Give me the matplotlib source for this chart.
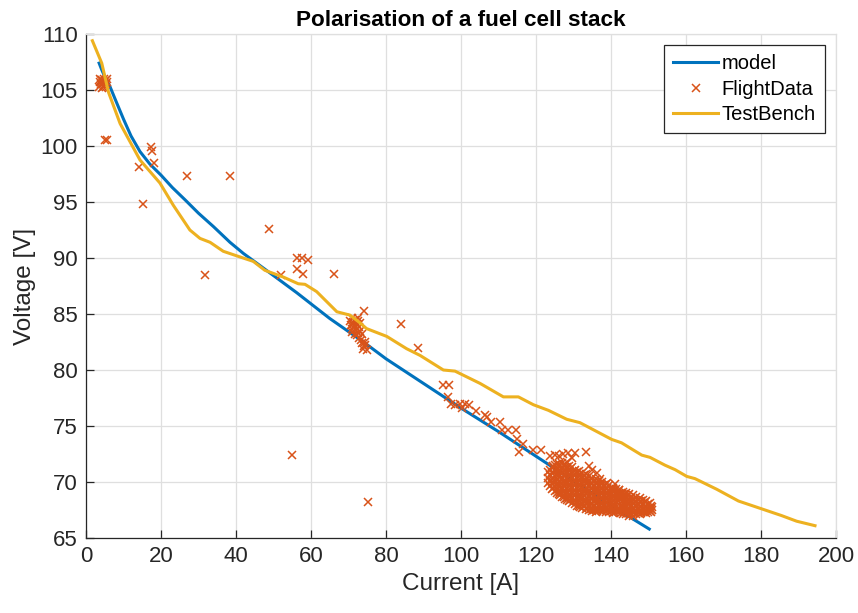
import matplotlib
matplotlib.use("Agg")
import matplotlib.pyplot as plt
import numpy as np

plt.rcParams['font.family'] = ['Liberation Sans', 'DejaVu Sans']

# ---------------- data ----------------
model_current = [3.5, 4.2, 5.0, 6.4, 8.0, 10.0, 12.0, 14.4, 17.0, 20.0, 23.0, 26.4, 30.0,
                 34.0, 38.4, 42.0, 47.3, 56.2, 65.0, 74.0, 80.0, 90.0, 100.0, 110.0,
                 120.0, 130.0, 140.0, 150.2]
model_voltage = [107.4, 106.8, 106.2, 105.3, 104.0, 102.4, 100.9, 99.5, 98.4, 97.4, 96.3,
                 95.2, 94.0, 92.8, 91.4, 90.4, 89.1, 86.9, 84.6, 82.5, 81.0, 78.8, 76.6,
                 74.5, 72.3, 70.1, 67.9, 65.8]

bench_current = [1.7, 4.2, 6.0, 9.1, 14.4, 19.7, 23.3, 27.7, 30.4, 33.1, 36.6, 41.9, 44.6,
                 47.7, 52.6, 56.6, 58.4, 61.5, 64.2, 66.9, 70.4, 73.1, 74.8, 80.2, 85.5,
                 89.1, 95.3, 98.4, 105.1, 111.3, 115.3, 119.3, 123.3, 128.2, 131.7, 140.2,
                 142.8, 148.2, 150.4, 154.4, 157.1, 160.2, 162.4, 168.2, 174.0, 180.2,
                 185.5, 189.5, 194.4]
bench_voltage = [109.4, 107.4, 104.8, 102.0, 98.75, 96.7, 94.7, 92.5, 91.75, 91.4, 90.6, 90.0,
                 89.7, 88.9, 88.3, 87.7, 87.65, 87.0, 86.1, 85.2, 84.9, 84.2, 83.7, 83.0,
                 81.9, 81.3, 80.0, 79.9, 78.8, 77.6, 77.6, 76.9, 76.4, 75.6, 75.3, 73.8,
                 73.5, 72.4, 72.2, 71.5, 71.1, 70.5, 70.3, 69.35, 68.3, 67.6, 67.0, 66.5,
                 66.1]

# scattered flight points (current, voltage)
flight_current = [3.4, 3.6, 3.8, 4.0, 4.2, 4.3, 4.5, 4.7, 4.9, 5.0, 5.3, 5.5, 5.6, 3.9, 4.6,
                  5.0, 5.6, 17.2, 17.7, 18.1, 14.0, 15.1, 27.0, 38.4, 31.7, 48.9, 56.2,
                  57.5, 59.3, 56.3, 57.9, 52.0, 66.0, 74.2, 83.9, 88.5, 54.9, 75.2,
                  70.3, 70.6, 70.9, 71.0, 71.3, 71.5, 71.8, 72.0, 72.2, 72.5, 72.7, 73.0,
                  73.1, 70.8, 71.6, 72.3, 72.9, 73.3, 73.6, 73.7, 74.0, 74.3, 73.9, 74.5,
                  72.6, 71.2, 72.4, 74.8,
                  95.3, 96.7, 96.4, 97.3, 98.4, 99.6, 101.1, 100.2, 102.0, 104.0, 106.4,
                  106.8, 107.9, 110.4, 111.0, 112.6, 114.7, 115.0, 116.5, 115.5, 119.1,
                  121.3,
                  123.7, 125.1, 126.0, 127.3, 128.6, 130.4, 133.3, 129.5, 128.2, 134.2,
                  134.9, 136.2, 137.1, 138.8, 141.1, 142.0, 143.7]
flight_voltage = [105.3, 105.7, 106.0, 105.5, 105.2, 105.9, 105.6, 106.0, 105.4, 105.8, 105.5,
                  106.0, 105.7, 105.9, 105.3,
                  100.5, 100.5, 99.9, 99.55, 98.45, 98.15, 94.8, 97.3, 97.3, 88.5, 92.55,
                  90.0, 90.0, 89.8, 89.0, 88.6, 88.5, 88.6, 85.3, 84.1, 82.0, 72.4, 68.2,
                  84.4, 84.0, 84.6, 83.7, 84.3, 83.9, 84.5, 83.6, 84.1, 84.4, 83.8, 84.2,
                  83.5, 83.4, 83.2, 83.1, 82.9, 82.7, 83.2, 82.4, 82.1, 82.5, 81.9, 82.2,
                  83.3, 84.1, 84.6, 81.8,
                  78.7, 78.7, 77.6, 77.0, 76.9, 77.0, 77.0, 76.6, 76.9, 76.3, 76.0, 75.8,
                  75.4, 75.4, 74.6, 74.6, 74.6, 73.8, 73.4, 72.7, 72.9, 72.9,
                  72.3, 72.4, 72.3, 72.5, 72.6, 72.6, 72.7, 72.1, 71.8, 71.4, 71.1, 70.8,
                  70.3, 69.9, 69.8, 69.3, 68.8]

# dense flight cluster near 123-151 A: column currents and the voltages in each column
cluster_current = [123.3, 123.75, 124.2, 124.65, 125.1, 125.55, 126.0, 126.45, 126.9, 127.35,
                   127.8, 128.25, 128.7, 129.15, 129.6, 130.05, 130.5, 130.95, 131.4, 131.85,
                   132.3, 132.75, 133.2, 133.65, 134.1, 134.55, 135.0, 135.45, 135.9, 136.35,
                   136.8, 137.25, 137.7, 138.15, 138.6, 139.05, 139.5, 139.95, 140.4, 140.85,
                   141.3, 141.75, 142.2, 142.65, 143.1, 143.55, 144.0, 144.45, 144.9, 145.35,
                   145.8, 146.25, 146.7, 147.15, 147.6, 148.05, 148.5, 148.95, 149.4, 149.85,
                   150.3, 150.65, 151.0]
cluster_voltage = [
    [70.9, 70.4, 69.9],
    [71.1, 70.6, 70.1, 69.6],
    [71.3, 70.8, 70.3, 69.8, 69.4],
    [71.4, 70.9, 70.4, 70.0, 69.5],
    [71.5, 71.0, 70.5, 70.0, 69.6, 69.2],
    [71.6, 71.1, 70.6, 70.2, 69.7, 69.3, 69.0],
    [71.6, 71.1, 70.6, 70.1, 69.7, 69.2, 68.9],
    [71.5, 71.0, 70.5, 70.0, 69.6, 69.1, 68.8],
    [71.7, 71.2, 70.8, 70.3, 69.8, 69.4, 69.0, 68.7],
    [71.4, 71.0, 70.5, 70.0, 69.6, 69.1, 68.7],
    [71.6, 71.1, 70.7, 70.2, 69.8, 69.3, 68.9, 68.5],
    [71.3, 70.9, 70.4, 69.9, 69.5, 69.0, 68.6, 68.4],
    [71.4, 71.0, 70.5, 70.1, 69.6, 69.2, 68.7, 68.3],
    [71.2, 70.7, 70.3, 69.8, 69.4, 68.9, 68.4],
    [71.3, 70.8, 70.4, 69.9, 69.5, 69.0, 68.6, 68.1],
    [71.0, 70.6, 70.1, 69.7, 69.2, 68.8, 68.3],
    [71.1, 70.7, 70.2, 69.8, 69.3, 68.9, 68.4, 68.0],
    [70.9, 70.4, 70.0, 69.5, 69.1, 68.6, 68.2, 67.9],
    [71.0, 70.5, 70.1, 69.6, 69.2, 68.7, 68.3, 67.9],
    [70.7, 70.3, 69.8, 69.4, 68.9, 68.5, 68.0, 67.8],
    [70.8, 70.4, 69.9, 69.5, 69.0, 68.6, 68.1, 67.7],
    [70.6, 70.1, 69.7, 69.2, 68.8, 68.3, 67.9],
    [70.7, 70.2, 69.8, 69.3, 68.9, 68.4, 68.0, 67.6],
    [70.4, 70.0, 69.5, 69.1, 68.6, 68.2, 67.7],
    [70.5, 70.1, 69.6, 69.2, 68.7, 68.3, 67.8, 67.5],
    [70.3, 69.8, 69.4, 68.9, 68.5, 68.0, 67.6],
    [70.4, 69.9, 69.5, 69.0, 68.6, 68.1, 67.7, 67.4],
    [70.1, 69.7, 69.2, 68.8, 68.3, 67.9, 67.5],
    [70.3, 69.8, 69.3, 68.9, 68.4, 68.0, 67.6, 67.3],
    [70.0, 69.5, 69.1, 68.6, 68.2, 67.7, 67.4],
    [70.1, 69.7, 69.2, 68.8, 68.3, 67.9, 67.5],
    [69.8, 69.4, 68.9, 68.5, 68.0, 67.6],
    [70.0, 69.5, 69.1, 68.6, 68.2, 67.8, 67.4],
    [69.7, 69.2, 68.8, 68.4, 67.9, 67.5],
    [69.8, 69.4, 68.9, 68.5, 68.1, 67.7, 67.3],
    [69.5, 69.1, 68.7, 68.2, 67.8, 67.5],
    [69.7, 69.2, 68.8, 68.4, 68.0, 67.6, 67.3],
    [69.4, 69.0, 68.5, 68.1, 67.7, 67.4],
    [69.5, 69.1, 68.7, 68.3, 67.9, 67.5, 67.2],
    [69.3, 68.8, 68.4, 68.0, 67.6, 67.3],
    [69.4, 69.0, 68.6, 68.2, 67.8, 67.4],
    [69.1, 68.7, 68.3, 67.5],
    [69.3, 68.9, 68.5, 67.7, 67.3],
    [69.0, 68.6, 67.9, 67.5, 67.2],
    [69.1, 68.7, 68.3, 67.9, 67.5, 67.1],
    [68.9, 68.5, 68.1, 67.7, 67.3],
    [69.0, 68.6, 68.2, 67.8, 67.4, 67.1],
    [68.8, 68.4, 68.0, 67.6, 67.2],
    [68.9, 68.5, 68.1, 67.7, 67.3, 67.0],
    [68.6, 68.3, 67.9, 67.5, 67.1],
    [68.8, 68.4, 68.0, 67.6, 67.2, 67.0],
    [68.5, 68.1, 67.7, 67.3],
    [68.7, 68.3, 67.9, 67.5, 67.1],
    [68.4, 68.0, 67.6, 67.2],
    [68.6, 68.2, 67.8, 67.4, 67.1],
    [68.3, 67.9, 67.5, 67.2],
    [68.4, 68.0, 67.6, 67.3],
    [68.2, 67.8, 67.4],
    [68.3, 67.9, 67.5, 67.2],
    [68.0, 67.6, 67.3],
    [68.1, 67.7, 67.4],
    [67.9, 67.6, 67.3],
    [67.8, 67.5],
]

x_ticks = [0, 20, 40, 60, 80, 100, 120, 140, 160, 180, 200]
y_ticks = [65, 70, 75, 80, 85, 90, 95, 100, 105, 110]

# ---------------- assemble flight data ----------------
fx = list(flight_current)
fy = list(flight_voltage)
for cx, col in zip(cluster_current, cluster_voltage):
    for v in col:
        fx.append(cx)
        fy.append(v)

# ---------------- plot ----------------
BLUE = '#0072BD'
ORANGE = '#D95319'
YELLOW = '#EDB120'
DARK = '#262626'
GRID = '#dfdfdf'

fig = plt.figure(figsize=(8.58, 6.13), dpi=100)
ax = fig.add_axes([86 / 858, 75 / 613, 750 / 858, 504 / 613])

ax.plot(model_current, model_voltage, color=BLUE, lw=2.2, label='model', zorder=3)
ax.plot(fx, fy, linestyle='none', marker='x', color=ORANGE, ms=5.5, mew=1.1,
        label='FlightData', zorder=4)
ax.plot(bench_current, bench_voltage, color=YELLOW, lw=2.2, label='TestBench', zorder=5)

ax.set_xlim(0, 200)
ax.set_ylim(65, 110)
ax.set_xticks(x_ticks)
ax.set_yticks(y_ticks)
ax.grid(True, color=GRID, lw=0.9, zorder=0)
ax.set_axisbelow(True)

for s in ['left', 'bottom']:
    ax.spines[s].set_color(DARK)
    ax.spines[s].set_linewidth(0.9)
for s in ['top', 'right']:
    ax.spines[s].set_color(GRID)
    ax.spines[s].set_linewidth(0.9)

ax.tick_params(direction='in', length=6, width=0.9, colors=DARK, labelsize=16, pad=6)

ax.set_xlabel('Current [A]', fontsize=17.5, color=DARK, labelpad=4)
ax.set_ylabel('Voltage [V]', fontsize=17.5, color=DARK, labelpad=3)
ax.set_title('Polarisation of a fuel cell stack', fontsize=16.2, fontweight='bold',
             color='black', pad=6)

leg = ax.legend(loc='upper right', fontsize=14.5, frameon=True, fancybox=False,
                framealpha=1, edgecolor=DARK, handlelength=2.2, handletextpad=0.2,
                borderaxespad=0.55, borderpad=0.45, labelspacing=0.32)
leg.get_frame().set_linewidth(0.9)

fig.savefig('out.png', dpi=100)
